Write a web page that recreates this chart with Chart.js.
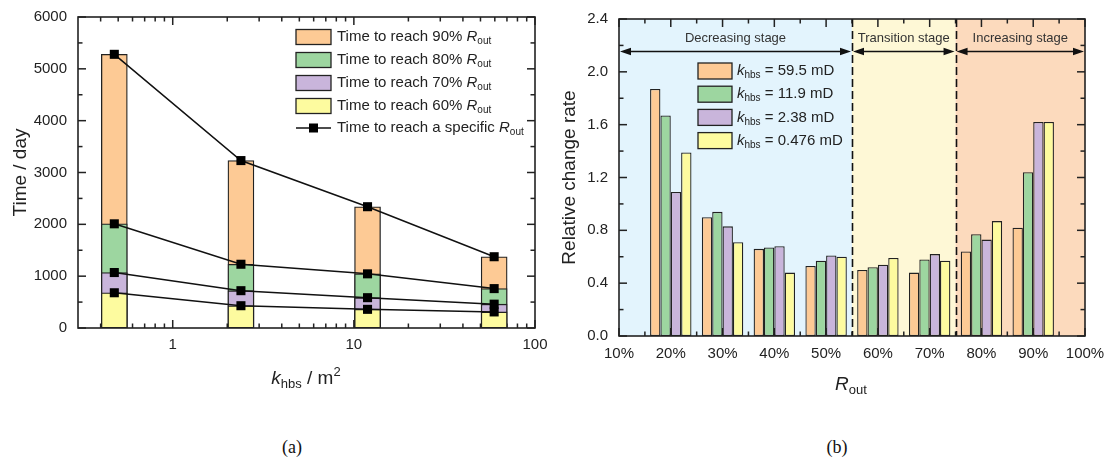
<!DOCTYPE html>
<html>
<head>
<meta charset="utf-8">
<script src="https://cdn.jsdelivr.net/npm/chart.js@4.4.1/dist/chart.umd.min.js"></script>
<style>
  body { margin: 0; width: 1108px; height: 471px; background: #fff; position: relative; overflow: hidden; }
  canvas { position: absolute; top: 0; }
  #grafA { left: 0; }
  #grafB { left: 555px; }
  .cap { position: absolute; top: 437px; font: 18px "Liberation Serif", "Times New Roman", serif; color: #111; transform: translateX(-50%); }
</style>
</head>
<body>
<canvas id="grafA" width="560" height="400"></canvas>
<canvas id="grafB" width="558" height="400"></canvas>
<div class="cap" style="left:292px">(a)</div>
<div class="cap" style="left:837px">(b)</div>
<script>
// (a) time needed to reach each R_out level vs. permeability k_hbs
const kHbs = [0.476, 2.38, 11.9, 59.5];
const t60 = [680, 430, 360, 310];
const t70 = [1070, 720, 585, 460];
const t80 = [2010, 1230, 1045, 760];
const t90 = [5280, 3230, 2340, 1375];
const xTicksA = [1, 10, 100];
const xMinorA = [0.4, 0.5, 0.6, 0.7, 0.8, 0.9, 2, 3, 4, 5, 6, 7, 8, 9, 20, 30, 40, 50, 60, 70, 80, 90];
const yTicksA = [0, 1000, 2000, 3000, 4000, 5000, 6000];
const yMinorA = [500, 1500, 2500, 3500, 4500, 5500];

// (b) relative change rate per R_out step for each k_hbs
const rOut = [20, 30, 40, 50, 60, 70, 80, 90];
const rate595 = [1.87, 0.90, 0.66, 0.53, 0.50, 0.48, 0.64, 0.82];
const rate119 = [1.67, 0.94, 0.67, 0.57, 0.52, 0.58, 0.77, 1.24];
const rate238 = [1.09, 0.83, 0.68, 0.61, 0.54, 0.62, 0.73, 1.62];
const rate0476 = [1.39, 0.71, 0.48, 0.60, 0.59, 0.57, 0.87, 1.62];
const xTicksB = [10, 20, 30, 40, 50, 60, 70, 80, 90, 100];
const xMinorB = [15, 25, 35, 45, 55, 65, 75, 85, 95];
const yTicksB = [0, 0.4, 0.8, 1.2, 1.6, 2.0, 2.4];
const yMinorB = [0.2, 0.6, 1.0, 1.4, 1.8, 2.2];
const stageNames = ['Decreasing stage', 'Transition stage', 'Increasing stage'];
const stageBounds = [10, 55, 75, 100];
const stageArrowAt = 2.16;

const FONT = '"Liberation Sans", Arial, Helvetica, sans-serif';
const INK = '#222';
const orange = '#fdca95', green = '#9dd6a0', purple = '#c9b5db', yellow = '#fdfb9f';
const stageFill = ['#e3f4fd', '#fef8d6', '#fcdabd'];

// text with italic / subscript / superscript pieces
function richText(ctx, parts, x, y, size, align) {
  const small = Math.round(size * 0.68);
  let w = 0;
  const items = parts.map(([t, s]) => {
    const fs = (s === 'sub' || s === 'sup') ? small : size;
    const font = (s === 'i' ? 'italic ' : '') + fs + 'px ' + FONT;
    ctx.font = font;
    const width = ctx.measureText(t).width;
    w += width;
    return { t, s, font, width };
  });
  let cx = align === 'center' ? x - w / 2 : x;
  ctx.textBaseline = 'middle';
  ctx.textAlign = 'left';
  items.forEach(it => {
    ctx.font = it.font;
    const dy = it.s === 'sub' ? size * 0.3 : (it.s === 'sup' ? -size * 0.35 : 0);
    ctx.fillText(it.t, cx, y + dy);
    cx += it.width;
  });
}

// inward ticks on all four sides, as thin filled rects
function drawTicks(chart, xMajor, xMinor, yMajor, yMinor) {
  const ctx = chart.ctx;
  const a = chart.chartArea;
  const sx = chart.scales.x, sy = chart.scales.y;
  const lw = 1.5;
  ctx.save();
  ctx.fillStyle = INK;
  const tx = (list, len) => list.forEach(v => {
    const px = sx.getPixelForValue(v);
    ctx.fillRect(px - lw / 2, a.bottom - len, lw, len);
    ctx.fillRect(px - lw / 2, a.top, lw, len);
  });
  const ty = (list, len) => list.forEach(v => {
    const py = sy.getPixelForValue(v);
    ctx.fillRect(a.left, py - lw / 2, len, lw);
    ctx.fillRect(a.right - len, py - lw / 2, len, lw);
  });
  tx(xMajor, 8); tx(xMinor, 4.5);
  ty(yMajor, 8); ty(yMinor, 4.5);
  ctx.restore();
}

function drawFrame(chart) {
  const { ctx, chartArea: a } = chart;
  ctx.save();
  ctx.strokeStyle = INK;
  ctx.lineWidth = 1.6;
  ctx.strokeRect(a.left, a.top, a.right - a.left, a.bottom - a.top);
  ctx.restore();
}

// fixed axis boxes so the plot area sits exactly on the layout padding
const fitX = h => s => { s.height = h; s.paddingLeft = 0; s.paddingRight = 0; };
const fitY = w => s => { s.width = w; s.paddingTop = 0; s.paddingBottom = 0; };

const pts = (xs, ys) => xs.map((v, i) => ({ x: v, y: ys[i] }));

const barStyle = { borderColor: INK, borderWidth: 1.3, borderSkipped: false };
const lineStyle = {
  type: 'line', borderColor: '#111', borderWidth: 1.5, tension: 0,
  pointStyle: 'rect', pointRadius: 6.4, pointBackgroundColor: '#000', pointBorderColor: '#000', pointBorderWidth: 0, order: 0
};

const decorA = {
  id: 'decorA',
  beforeDatasetsDraw(chart) {
    drawTicks(chart, xTicksA, xMinorA, yTicksA, yMinorA);
  },
  afterDatasetsDraw(chart) {
    const ctx = chart.ctx;
    const rows = [[orange, '90%'], [green, '80%'], [purple, '70%'], [yellow, '60%']];
    ctx.save();
    rows.forEach(([c, p], i) => {
      const yc = 37 + i * 23;
      ctx.fillStyle = c;
      ctx.fillRect(296, yc - 7.5, 35, 15);
      ctx.strokeStyle = INK; ctx.lineWidth = 1.3;
      ctx.strokeRect(296, yc - 7.5, 35, 15);
      ctx.fillStyle = INK;
      richText(ctx, [['Time to reach ' + p + ' ', ''], ['R', 'i'], ['out', 'sub']], 337, yc, 15);
    });
    const yl = 37 + 4 * 23 - 1;
    ctx.strokeStyle = '#111'; ctx.lineWidth = 1.5;
    ctx.beginPath(); ctx.moveTo(296, yl); ctx.lineTo(331, yl); ctx.stroke();
    ctx.fillStyle = '#000'; ctx.fillRect(313.5 - 4.5, yl - 4.5, 9, 9);
    ctx.fillStyle = INK;
    richText(ctx, [['Time to reach a specific ', ''], ['R', 'i'], ['out', 'sub']], 337, yl, 15);

    // axis titles
    richText(ctx, [['k', 'i'], ['hbs', 'sub'], [' / m', ''], ['2', 'sup']], 306, 379, 19, 'center');
    ctx.translate(21, 172.5);
    ctx.rotate(-Math.PI / 2);
    richText(ctx, [['Time / day', '']], 0, 0, 19, 'center');
    ctx.restore();
  },
  afterDraw(chart) { drawFrame(chart); }
};

new Chart(document.getElementById('grafA'), {
  type: 'bar',
  data: {
    datasets: [
      { ...barStyle, label: '60%', data: pts(kHbs, t60), backgroundColor: yellow, order: 1 },
      { ...barStyle, label: '70%', data: pts(kHbs, t70), backgroundColor: purple, order: 2 },
      { ...barStyle, label: '80%', data: pts(kHbs, t80), backgroundColor: green, order: 3 },
      { ...barStyle, label: '90%', data: pts(kHbs, t90), backgroundColor: orange, order: 4 },
      { ...lineStyle, label: 'l60', data: pts(kHbs, t60) },
      { ...lineStyle, label: 'l70', data: pts(kHbs, t70) },
      { ...lineStyle, label: 'l80', data: pts(kHbs, t80) },
      { ...lineStyle, label: 'l90', data: pts(kHbs, t90) }
    ]
  },
  options: {
    responsive: false,
    animation: false,
    datasets: { bar: { grouped: false, barThickness: 26 } },
    layout: { padding: { top: 17, right: 25, left: 0, bottom: 0 } },
    plugins: { legend: { display: false }, tooltip: { enabled: false } },
    scales: {
      x: {
        type: 'logarithmic', min: 0.3, max: 100, offset: false,
        grid: { display: false, drawTicks: false }, border: { display: false },
        afterBuildTicks: s => { s.ticks = xTicksA.map(v => ({ value: v })); },
        afterFit: fitX(72),
        ticks: { autoSkip: false, maxRotation: 0, padding: 8, color: INK, font: { size: 15, family: FONT }, callback: v => String(v) }
      },
      y: {
        min: 0, max: 6000,
        grid: { display: false, drawTicks: false }, border: { display: false },
        afterBuildTicks: s => { s.ticks = yTicksA.map(v => ({ value: v })); },
        afterFit: fitY(78),
        ticks: { padding: 11, color: INK, font: { size: 15, family: FONT }, callback: v => String(v) }
      }
    }
  },
  plugins: [decorA]
});

// shaded stage regions, stage arrows, legend and titles
const decorB = {
  id: 'decorB',
  beforeDatasetsDraw(chart) {
    const { ctx, chartArea: a, scales: { x } } = chart;
    ctx.save();
    stageNames.forEach((n, i) => {
      const x0 = x.getPixelForValue(stageBounds[i]);
      const x1 = x.getPixelForValue(stageBounds[i + 1]);
      ctx.fillStyle = stageFill[i];
      ctx.fillRect(x0, a.top, x1 - x0, a.bottom - a.top);
    });
    ctx.restore();
    drawTicks(chart, xTicksB, xMinorB, yTicksB, yMinorB);
  },
  afterDatasetsDraw(chart) {
    const { ctx, chartArea: a, scales: { x, y } } = chart;
    ctx.save();
    ctx.strokeStyle = '#111';
    ctx.lineWidth = 1.6;
    ctx.setLineDash([8, 4]);
    ctx.beginPath();
    stageBounds.slice(1, -1).forEach(b => {
      const px = Math.round(x.getPixelForValue(b)) + 0.5;
      ctx.moveTo(px, a.top); ctx.lineTo(px, a.bottom);
    });
    ctx.stroke();
    ctx.setLineDash([]);
    const ya = Math.round(y.getPixelForValue(stageArrowAt)) + 0.5;
    stageNames.forEach((n, i) => {
      const x0 = x.getPixelForValue(stageBounds[i]) + 1;
      const x1 = x.getPixelForValue(stageBounds[i + 1]) - 1;
      ctx.strokeStyle = '#111'; ctx.fillStyle = '#111'; ctx.lineWidth = 1.4;
      ctx.beginPath(); ctx.moveTo(x0 + 4, ya); ctx.lineTo(x1 - 4, ya); ctx.stroke();
      ctx.beginPath(); ctx.moveTo(x0, ya); ctx.lineTo(x0 + 11, ya - 3.8); ctx.lineTo(x0 + 11, ya + 3.8); ctx.closePath(); ctx.fill();
      ctx.beginPath(); ctx.moveTo(x1, ya); ctx.lineTo(x1 - 11, ya - 3.8); ctx.lineTo(x1 - 11, ya + 3.8); ctx.closePath(); ctx.fill();
      ctx.fillStyle = '#333';
      richText(ctx, [[n, '']], (x0 + x1) / 2, ya - 13.5, 13, 'center');
    });

    // legend
    const rows = [[orange, '59.5'], [green, '11.9'], [purple, '2.38'], [yellow, '0.476']];
    rows.forEach(([c, v], i) => {
      const yc = 71 + i * 23.2;
      ctx.fillStyle = c;
      ctx.fillRect(143, yc - 8, 34, 16);
      ctx.strokeStyle = INK; ctx.lineWidth = 1.3;
      ctx.strokeRect(143, yc - 8, 34, 16);
      ctx.fillStyle = INK;
      richText(ctx, [['k', 'i'], ['hbs', 'sub'], [' = ' + v + ' mD', '']], 182, yc, 15);
    });

    // axis titles
    richText(ctx, [['R', 'i'], ['out', 'sub']], 296, 385, 19, 'center');
    ctx.translate(14.5, 177.5);
    ctx.rotate(-Math.PI / 2);
    richText(ctx, [['Relative change rate', '']], 0, 0, 19, 'center');
    ctx.restore();
  },
  afterDraw(chart) { drawFrame(chart); }
};

new Chart(document.getElementById('grafB'), {
  type: 'bar',
  data: {
    datasets: [
      { ...barStyle, label: '59.5 mD', data: pts(rOut, rate595), backgroundColor: orange },
      { ...barStyle, label: '11.9 mD', data: pts(rOut, rate119), backgroundColor: green },
      { ...barStyle, label: '2.38 mD', data: pts(rOut, rate238), backgroundColor: purple },
      { ...barStyle, label: '0.476 mD', data: pts(rOut, rate0476), backgroundColor: yellow }
    ]
  },
  options: {
    responsive: false,
    animation: false,
    datasets: { bar: { categoryPercentage: 0.8, barPercentage: 1.0 } },
    layout: { padding: { top: 19, right: 28, left: 0, bottom: 0 } },
    plugins: { legend: { display: false }, tooltip: { enabled: false } },
    scales: {
      x: {
        type: 'linear', min: 10, max: 100, offset: false,
        grid: { display: false, drawTicks: false }, border: { display: false },
        afterBuildTicks: s => { s.ticks = xTicksB.map(v => ({ value: v })); },
        afterFit: fitX(64),
        ticks: { autoSkip: false, maxRotation: 0, padding: 9, color: INK, font: { size: 15, family: FONT }, callback: v => v + '%' }
      },
      y: {
        min: 0, max: 2.4,
        grid: { display: false, drawTicks: false }, border: { display: false },
        afterBuildTicks: s => { s.ticks = yTicksB.map(v => ({ value: v })); },
        afterFit: fitY(64),
        ticks: { padding: 11, color: INK, font: { size: 15, family: FONT }, callback: v => Number(v).toFixed(1) }
      }
    }
  },
  plugins: [decorB]
});
</script>
</body>
</html>
